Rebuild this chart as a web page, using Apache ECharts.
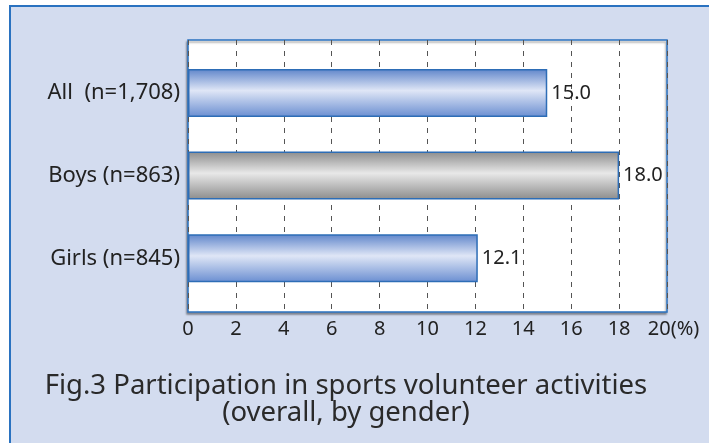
<!DOCTYPE html>
<html>
<head>
<meta charset="utf-8">
<script src="https://cdn.jsdelivr.net/npm/echarts@6/dist/echarts.min.js"></script>
<style>html,body{margin:0;padding:0;background:#fff}#c{width:709px;height:443px}</style>
</head>
<body>
<div id="c"></div>
<script>
const categories = ['All  (n=1,708)', 'Boys (n=863)', 'Girls (n=845)'];
const values = [15.0, 18.0, 12.1];
const barKinds = ['blue', 'gray', 'blue'];
const xTicks = [0, 2, 4, 6, 8, 10, 12, 14, 16, 18, 20];
const titleLines = ['Fig.3 Participation in sports volunteer activities', '(overall, by gender)'];

const FONT = 'Noto Sans';
const grad = {
  blue: new echarts.graphic.LinearGradient(0, 0, 0, 1, [
    {offset: 0, color: '#5f85ca'}, {offset: 0.45, color: '#dfe6f6'}, {offset: 1, color: '#6a8ed1'}]),
  gray: new echarts.graphic.LinearGradient(0, 0, 0, 1, [
    {offset: 0, color: '#8c8c8c'}, {offset: 0.45, color: '#e8e8e8'}, {offset: 1, color: '#8c8c8c'}])
};

const chart = echarts.init(document.getElementById('c'), null, {renderer: 'canvas'});
chart.setOption({
  backgroundColor: '#ffffff',
  animation: false,
  graphic: [
    {type: 'rect', z: -10, shape: {x: 10, y: 6, width: 720, height: 460},
     style: {fill: '#d3dcef', stroke: '#2a72c0', lineWidth: 2}},
    {type: 'text', z: 10, x: 346, y: 386,
     style: {text: titleLines[0], font: '27.5px "' + FONT + '"', fill: '#2a2a2a', align: 'center', verticalAlign: 'middle'}},
    {type: 'text', z: 10, x: 346, y: 413,
     style: {text: titleLines[1], font: '27.5px "' + FONT + '"', fill: '#2a2a2a', align: 'center', verticalAlign: 'middle'}}
  ],
  grid: [
    {left: 188, right: 42, top: 40, bottom: 131, show: true, backgroundColor: '#ffffff',
     borderColor: '#2a72c0', borderWidth: 1.5, shadowColor: 'rgba(0,0,0,0.35)', shadowBlur: 2, shadowOffsetX: -1, shadowOffsetY: 2},
    {left: 188, right: 42, top: 51.6, height: 248}
  ],
  xAxis: [
    {gridIndex: 0, type: 'value', min: 0, max: 20, interval: 2,
     axisLine: {show: false}, axisTick: {show: false},
     splitLine: {show: true, lineStyle: {color: '#555', type: [5, 6], width: 1}},
     axisLabel: {fontFamily: FONT, fontSize: 20, color: '#222', margin: 7,
       formatter: v => v === 20 ? '{p|20(%)}' : String(v),
       rich: {p: {fontFamily: FONT, fontSize: 20, color: '#222', padding: [0, 0, 0, 13]}},
       customValues: xTicks}},
    {gridIndex: 1, type: 'value', min: 0, max: 20, show: false}
  ],
  yAxis: [
    {gridIndex: 0, type: 'category', data: categories, show: false},
    {gridIndex: 1, type: 'category', data: categories, inverse: true,
     axisLine: {show: false}, axisTick: {show: false}, splitLine: {show: false},
     axisLabel: {fontFamily: FONT, fontSize: 22, color: '#222', margin: 8}}
  ],
  series: [{
    type: 'bar', xAxisIndex: 1, yAxisIndex: 1, barWidth: 48,
    data: values.map((v, i) => ({value: v, itemStyle: {color: grad[barKinds[i]]}})),
    itemStyle: {borderColor: '#2d6db6', borderWidth: 1.5},
    label: {show: true, position: 'right', distance: 4, fontFamily: FONT, fontSize: 20, color: '#222',
      formatter: p => p.value.toFixed(1)}
  }]
});
</script>
</body>
</html>
